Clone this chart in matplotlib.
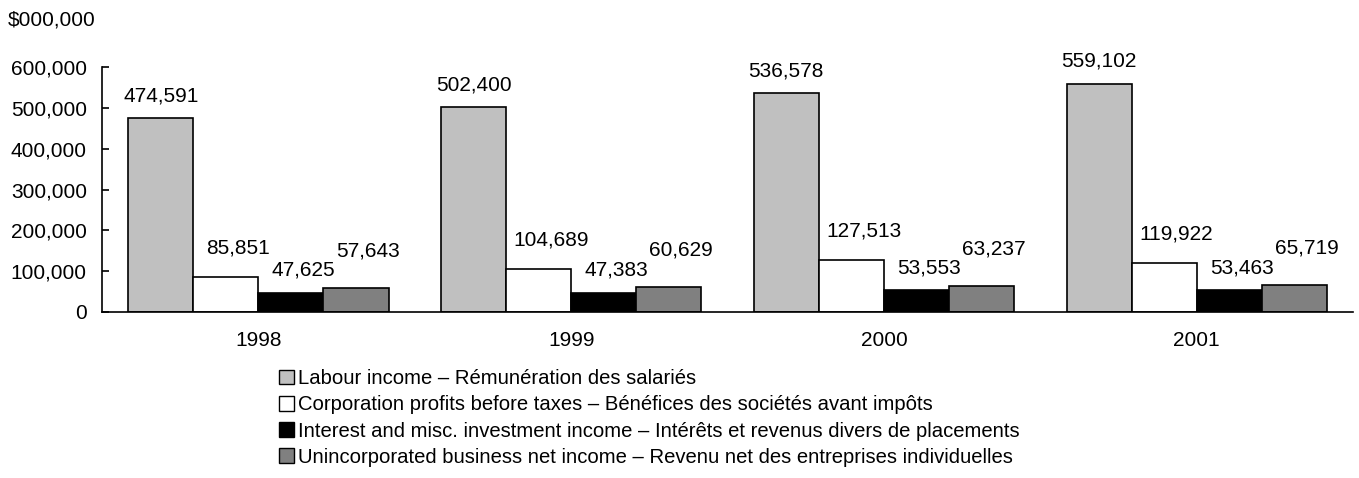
import numpy as np
import matplotlib
matplotlib.use("Agg")
import matplotlib.pyplot as plt
from matplotlib.patches import Patch

plt.rcParams["font.family"] = ["Liberation Sans", "DejaVu Sans"]

years = ["1998", "1999", "2000", "2001"]
series_names = [
    "Labour income – Rémunération des salariés",
    "Corporation profits before taxes – Bénéfices des sociétés avant impôts",
    "Interest and misc. investment income – Intérêts et revenus divers de placements",
    "Unincorporated business net income – Revenu net des entreprises individuelles",
]
labour = [474591, 502400, 536578, 559102]
corporate = [85851, 104689, 127513, 119922]
interest = [47625, 47383, 53553, 53463]
unincorporated = [57643, 60629, 63237, 65719]
values = [labour, corporate, interest, unincorporated]

colors = ["#c0c0c0", "#ffffff", "#000000", "#808080"]
# label offsets (points) above each series' bar, mimicking the original placement
label_dy = [16, 21, 16, 27]
label_dx = [0, 9, 9, 9]

FS = 15

fig = plt.figure(figsize=(13.59, 4.78), dpi=100)
ax = fig.add_axes([0.0751, 0.3473, 0.9205, 0.5125])

x = np.arange(len(years))
w = 0.208
for i, (vals, col) in enumerate(zip(values, colors)):
    pos = x + (i - 1.5) * w
    ax.bar(pos, vals, width=w, color=col, edgecolor="black", linewidth=1.2)
    for px, v in zip(pos, vals):
        ax.annotate(f"{v:,}", (px, v), xytext=(label_dx[i], label_dy[i]),
                    textcoords="offset points", ha="center", va="center",
                    fontsize=FS)

ax.set_xlim(-0.5, len(years) - 0.5)
ax.set_ylim(0, 600000)
ax.set_yticks(np.arange(0, 600001, 100000))
ax.yaxis.set_major_formatter(matplotlib.ticker.FuncFormatter(lambda v, p: f"{int(v):,}"))
ax.set_xticks(x)
ax.set_xticklabels(years)
ax.tick_params(axis="x", length=0, pad=14, labelsize=FS)
ax.tick_params(axis="y", direction="in", length=5, width=1.2, pad=11, labelsize=FS)
for s in ["top", "right"]:
    ax.spines[s].set_visible(False)
ax.spines["left"].set_linewidth(1.2)
ax.spines["bottom"].set_linewidth(1.2)

fig.text(8 / 1359, 1 - 20 / 478, "$000,000", fontsize=FS, ha="left", va="center")

handles = [Patch(facecolor=c, edgecolor="black", linewidth=1.0) for c in colors]
fig.legend(handles, series_names, loc="upper left",
           bbox_to_anchor=(279 / 1359, 1 - 369 / 478), frameon=False,
           fontsize=14.6, handlelength=0.75, handleheight=0.75, handletextpad=0.2,
           labelspacing=0.36, borderpad=0, borderaxespad=0)

fig.savefig("out.png", dpi=100)
